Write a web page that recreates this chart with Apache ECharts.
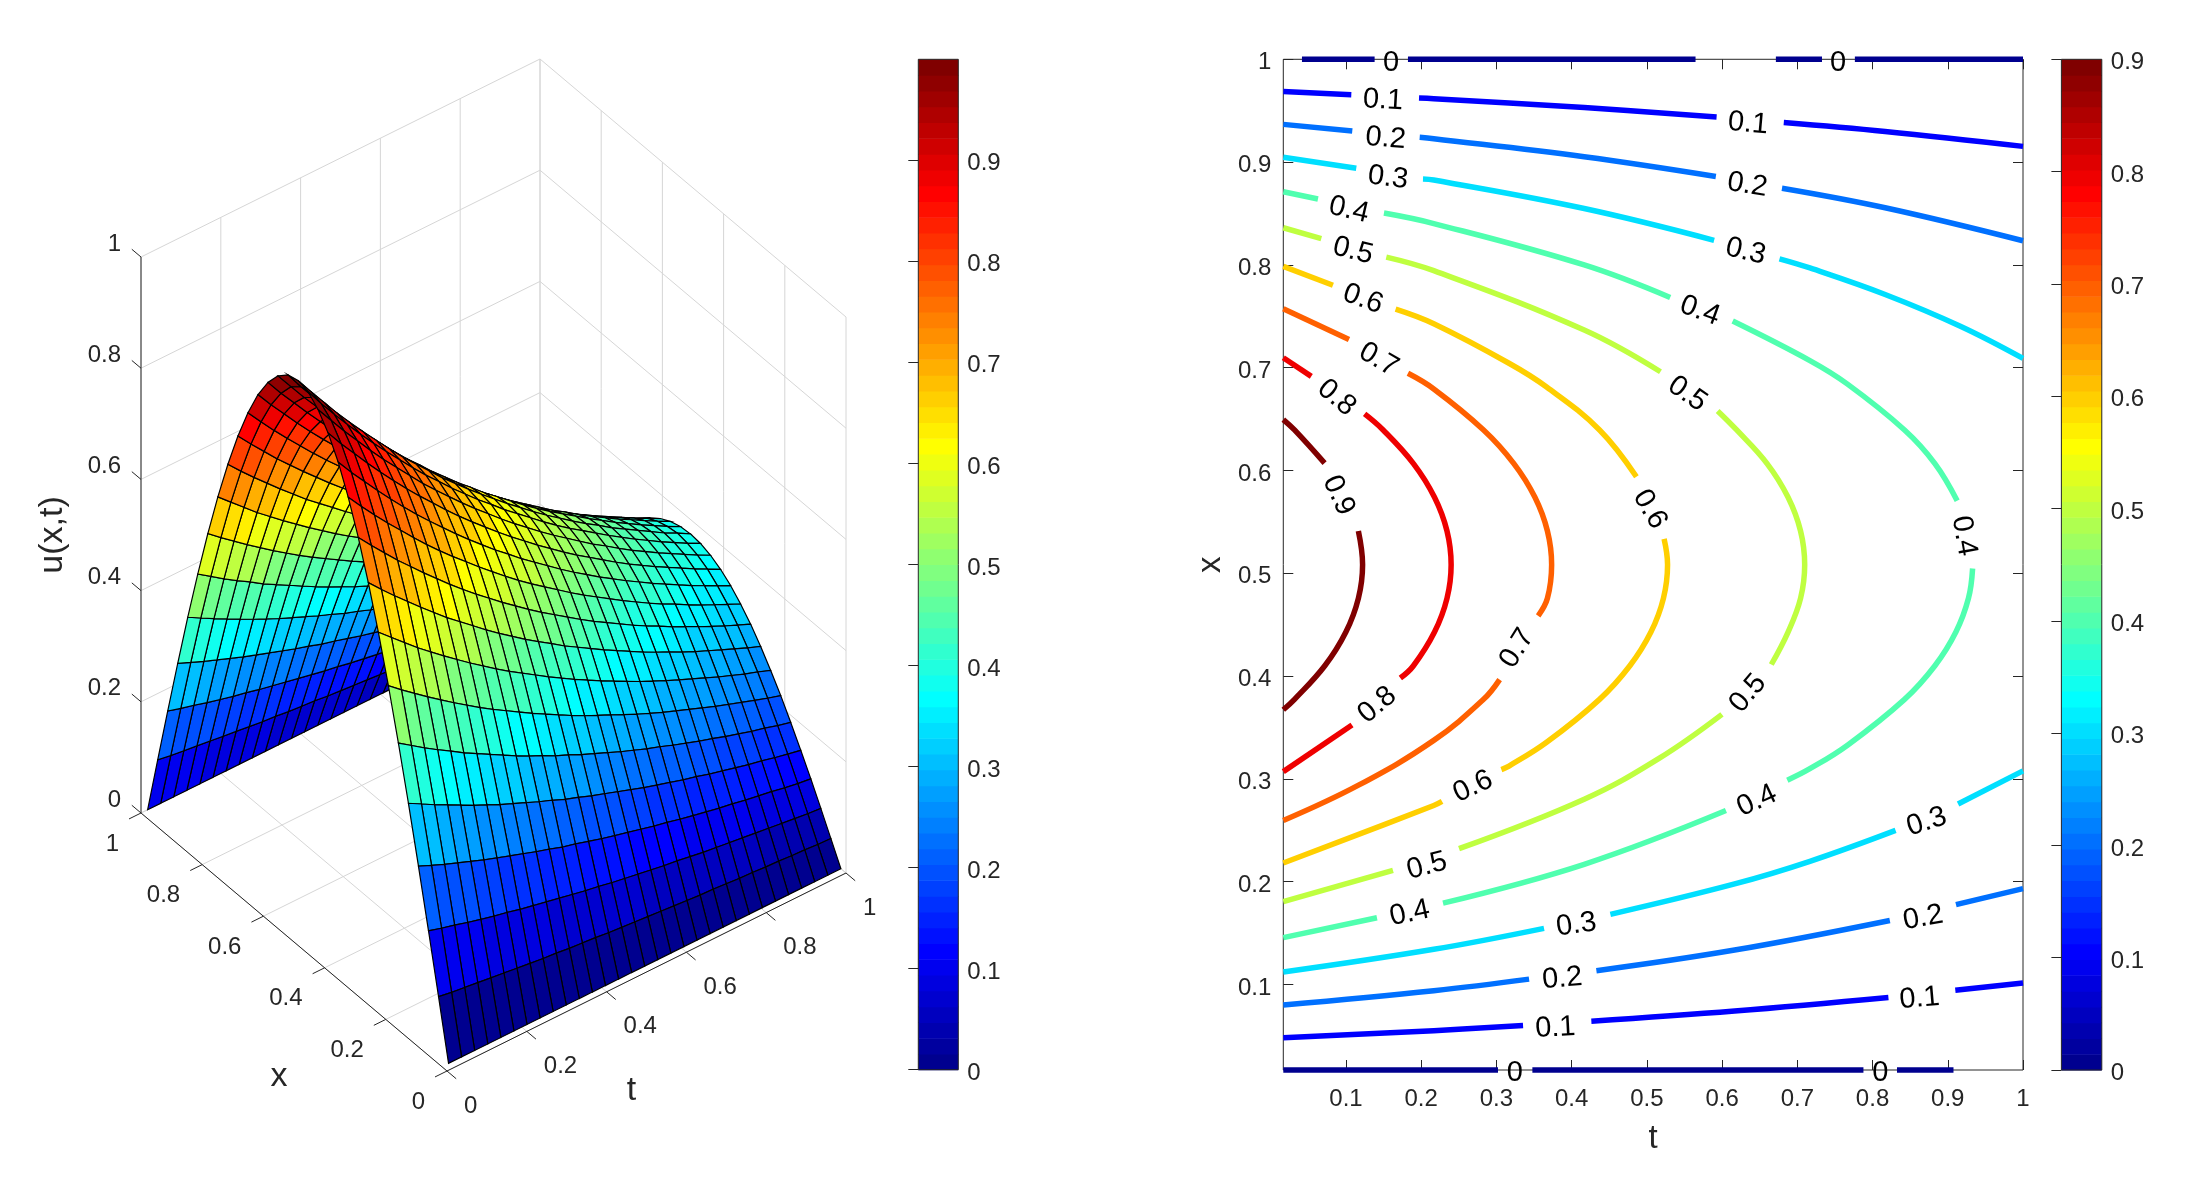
<!DOCTYPE html>
<html>
<head>
<meta charset="utf-8">
<style>html,body{margin:0;padding:0;background:#fff}#c{width:2191px;height:1196px}</style>
<script src="https://cdn.jsdelivr.net/npm/echarts@6/dist/echarts.min.js"></script>
</head>
<body>
<div id="c"></div>
<script>
// ---------- data ----------
const surfaceX = [.0167,.0494,.0822,.115,.1478,.1806,.2133,.2461,.2789,.3117,.3444,.3772,.41,.4428,.4756,.5083,.5411,.5739,.6067,.6394,.6722,.705,.7378,.7706,.8033,.8361,.8689,.9017,.9344,.9672,1];
const surfaceT = [.0167,.0494,.0822,.115,.1478,.1806,.2133,.2461,.2789,.3117,.3444,.3772,.41,.4428,.4756,.5083,.5411,.5739,.6067,.6394,.6722,.705,.7378,.7706,.8033,.8361,.8689,.9017,.9344,.9672,1];
// u(x,t): one row per x, one column per t
const surfaceU = [
[0,0,0,0,0,0,0,0,0,0,0,0,0,0,0,0,0,0,0,0,0,0,0,0,0,0,0,0,0,0,0],
[.105,.101,.098,.095,.092,.089,.086,.083,.080,.078,.075,.073,.071,.068,.066,.064,.062,.060,.058,.056,.054,.053,.051,.049,.048,.046,.045,.043,.042,.040,.039],
[.208,.201,.195,.188,.182,.176,.171,.165,.160,.155,.150,.145,.140,.136,.131,.127,.123,.119,.115,.112,.108,.104,.101,.098,.095,.092,.089,.086,.083,.080,.078],
[.309,.299,.289,.280,.271,.262,.254,.246,.238,.230,.223,.215,.209,.202,.195,.189,.183,.177,.171,.166,.160,.155,.150,.145,.141,.136,.132,.128,.123,.119,.116],
[.407,.394,.381,.369,.357,.345,.334,.323,.313,.303,.293,.284,.274,.266,.257,.249,.241,.233,.225,.218,.211,.204,.198,.191,.185,.179,.173,.168,.162,.157,.152],
[.500,.484,.468,.453,.439,.424,.411,.398,.385,.372,.360,.349,.337,.327,.316,.306,.296,.286,.277,.268,.260,.251,.243,.235,.228,.220,.213,.206,.200,.193,.187],
[.588,.569,.551,.533,.516,.499,.483,.467,.452,.438,.424,.410,.397,.384,.371,.359,.348,.337,.326,.315,.305,.295,.286,.277,.268,.259,.251,.243,.235,.227,.220],
[.669,.648,.627,.606,.587,.568,.550,.532,.515,.498,.482,.467,.452,.437,.423,.409,.396,.383,.371,.359,.347,.336,.325,.315,.305,.295,.285,.276,.267,.259,.250],
[.743,.719,.696,.674,.652,.631,.610,.591,.572,.553,.535,.518,.501,.485,.470,.454,.440,.426,.412,.399,.386,.373,.361,.350,.338,.327,.317,.307,.297,.287,.278],
[.809,.783,.758,.733,.710,.687,.665,.643,.622,.602,.583,.564,.546,.528,.511,.495,.479,.463,.448,.434,.420,.406,.393,.381,.368,.357,.345,.334,.323,.313,.303],
[.866,.838,.811,.785,.760,.735,.711,.688,.666,.645,.624,.604,.584,.565,.547,.530,.513,.496,.480,.465,.450,.435,.421,.407,.394,.382,.369,.357,.346,.335,.324],
[.914,.884,.856,.828,.801,.775,.750,.726,.703,.680,.658,.637,.616,.597,.577,.559,.541,.523,.506,.490,.474,.459,.444,.430,.416,.403,.390,.377,.365,.353,.342],
[.951,.920,.891,.862,.834,.807,.781,.756,.732,.708,.685,.663,.642,.621,.601,.582,.563,.545,.527,.510,.494,.478,.462,.447,.433,.419,.406,.393,.380,.368,.356],
[.978,.947,.916,.887,.858,.830,.804,.778,.752,.728,.705,.682,.660,.639,.618,.598,.579,.560,.542,.525,.508,.491,.476,.460,.445,.431,.417,.404,.391,.378,.366],
[.995,.962,.931,.901,.872,.844,.817,.791,.765,.740,.717,.693,.671,.649,.629,.608,.589,.570,.551,.533,.516,.500,.484,.468,.453,.438,.424,.410,.397,.384,.372],
[.9999,.968,.937,.906,.877,.849,.822,.795,.769,.745,.721,.697,.675,.653,.632,.612,.592,.573,.554,.536,.519,.502,.486,.471,.455,.441,.427,.413,.399,.387,.374],
[.995,.962,.931,.901,.872,.844,.817,.791,.765,.740,.717,.693,.671,.649,.629,.608,.589,.570,.551,.533,.516,.500,.484,.468,.453,.438,.424,.410,.397,.384,.372],
[.978,.947,.916,.887,.858,.830,.804,.778,.752,.728,.705,.682,.660,.639,.618,.598,.579,.560,.542,.525,.508,.491,.476,.460,.445,.431,.417,.404,.391,.378,.366],
[.951,.920,.891,.862,.834,.807,.781,.756,.732,.708,.685,.663,.642,.621,.601,.582,.563,.545,.527,.510,.494,.478,.462,.447,.433,.419,.406,.393,.380,.368,.356],
[.914,.884,.856,.828,.801,.775,.750,.726,.703,.680,.658,.637,.616,.597,.577,.559,.541,.523,.506,.490,.474,.459,.444,.430,.416,.403,.390,.377,.365,.353,.342],
[.866,.838,.811,.785,.760,.735,.711,.688,.666,.645,.624,.604,.584,.565,.547,.530,.513,.496,.480,.465,.450,.435,.421,.407,.394,.382,.369,.357,.346,.335,.324],
[.809,.783,.758,.733,.710,.687,.665,.643,.622,.602,.583,.564,.546,.528,.511,.495,.479,.463,.448,.434,.420,.406,.393,.381,.368,.357,.345,.334,.323,.313,.303],
[.743,.719,.696,.674,.652,.631,.610,.591,.572,.553,.535,.518,.501,.485,.470,.454,.440,.426,.412,.399,.386,.373,.361,.350,.338,.327,.317,.307,.297,.287,.278],
[.669,.648,.627,.606,.587,.568,.550,.532,.515,.498,.482,.467,.452,.437,.423,.409,.396,.383,.371,.359,.347,.336,.325,.315,.305,.295,.285,.276,.267,.259,.250],
[.588,.569,.551,.533,.516,.499,.483,.467,.452,.438,.424,.410,.397,.384,.371,.359,.348,.337,.326,.315,.305,.295,.286,.277,.268,.259,.251,.243,.235,.227,.220],
[.500,.484,.468,.453,.439,.424,.411,.398,.385,.372,.360,.349,.337,.327,.316,.306,.296,.286,.277,.268,.260,.251,.243,.235,.228,.220,.213,.206,.200,.193,.187],
[.407,.394,.381,.369,.357,.345,.334,.323,.313,.303,.293,.284,.274,.266,.257,.249,.241,.233,.225,.218,.211,.204,.198,.191,.185,.179,.173,.168,.162,.157,.152],
[.309,.299,.289,.280,.271,.262,.254,.246,.238,.230,.223,.215,.209,.202,.195,.189,.183,.177,.171,.166,.160,.155,.150,.145,.141,.136,.132,.128,.123,.119,.116],
[.208,.201,.195,.188,.182,.176,.171,.165,.160,.155,.150,.145,.140,.136,.131,.127,.123,.119,.115,.112,.108,.104,.101,.098,.095,.092,.089,.086,.083,.080,.078],
[.105,.101,.098,.095,.092,.089,.086,.083,.080,.078,.075,.073,.071,.068,.066,.064,.062,.060,.058,.056,.054,.053,.051,.049,.048,.046,.045,.043,.042,.040,.039],
[0,0,0,0,0,0,0,0,0,0,0,0,0,0,0,0,0,0,0,0,0,0,0,0,0,0,0,0,0,0,0]
];
const boxTicks = [0,.2,.4,.6,.8,1];
const boxTickText = ['0','0.2','0.4','0.6','0.8','1'];
const axis2dTicks = [.1,.2,.3,.4,.5,.6,.7,.8,.9,1];
const axis2dText = ['0.1','0.2','0.3','0.4','0.5','0.6','0.7','0.8','0.9','1'];
const colorbarTicks = [0,.1,.2,.3,.4,.5,.6,.7,.8,.9];

const contourLevels = [0,.1,.2,.3,.4,.5,.6,.7,.8,.9];
const contour0 = [
 [[.0415,1],[.1381,1]],[[.1824,1],[.5647,1]],[[.6715,1],[.7328,1]],[[.7765,1],[1,1]],
 [[.0167,.0167],[.3021,.0167]],[[.3478,.0167],[.7879,.0167]],[[.8325,.0167],[.9076,.0167]]];
const contour1 = [
 [[.0167,.048],[.2167,.055],[.3354,.0601]],[[.4262,.0641],[.6167,.074],[.8211,.0872]],[[.91,.0943],[1,.1014]],
 [[.0167,.9687],[.1071,.9655]],[[.1971,.9624],[.2167,.9617],[.4167,.9531],[.5927,.9439]],[[.682,.9385],[.8167,.9298],[1,.9153]]];
const contour2 = [
 [[.0167,.08],[.2167,.0939],[.3434,.1051]],[[.4329,.1133],[.6167,.1334],[.823,.1622]],[[.9109,.1776],[1,.1932]],
 [[.0167,.9367],[.1084,.9303]],[[.198,.9241],[.2167,.9228],[.4167,.9052],[.5917,.886]],[[.6796,.8746],[.8167,.8556],[1,.8235]]];
const contour3 = [
 [[.0167,.112],[.2167,.1341],[.3633,.1545]],[[.4515,.1681],[.6167,.1977],[.7167,.2197],[.8306,.2498]],[[.9137,.2755],[1,.3077]],
 [[.0167,.9047],[.1137,.894]],[[.2024,.8836],[.2167,.8826],[.4167,.8548],[.5894,.8239]],[[.6763,.8059],[.7167,.797],[.8167,.7712],[.9167,.7403],[1,.709]]];
const contour4 = [
 [[.0167,.1455],[.1412,.1648]],[[.229,.179],[.4167,.2168],[.6051,.2691]],
 [[.6867,.2986],[.7167,.3098],[.7667,.3327],[.8425,.3773],[.8829,.41],[.9108,.4428],[.9275,.4756],[.933,.5046]],
 [[.0167,.8712],[.0628,.8641]],[[.1505,.8504],[.2167,.8402],[.4167,.7999],[.531,.7682]],
 [[.6141,.7454],[.7167,.7069],[.7667,.684],[.8425,.6394],[.8829,.6067],[.9125,.5706]]];
const contour5 = [
 [[.0167,.1806],[.1625,.211]],[[.2503,.232],[.4167,.2801],[.5167,.3201],[.5998,.3627]],
 [[.6654,.4112],[.6877,.4428],[.7043,.4756],[.7098,.5083],[.7043,.5411],[.6877,.5739],[.6598,.6067],[.6194,.6394],[.5941,.6579]],
 [[.0167,.8361],[.0672,.8256]],[[.1536,.8076],[.2167,.7944],[.4167,.7366],[.5181,.696]]];
const contour6 = [
 [[.0167,.2181],[.2167,.274],[.2277,.278]],
 [[.3066,.309],[.3167,.3124],[.3667,.3355],[.4371,.3773],[.4774,.41],[.5054,.4428],[.522,.4756],[.5275,.5083],[.5229,.5334]],
 [[.4861,.5938],[.4371,.6394],[.3667,.6812],[.3167,.7043],[.2167,.7427],[.166,.7569]],
 [[.0827,.7802],[.0167,.7986]]];
const contour7 = [
 [[.0167,.2594],[.1167,.2938],[.2167,.3374],[.2829,.3773],[.3043,.3965]],
 [[.3555,.4586],[.3678,.4756],[.3734,.5083],[.3678,.5411],[.3512,.5739],[.3232,.6067],[.2829,.6394],[.2167,.6793],[.1824,.6945]],
 [[.104,.7273],[.0167,.7573]]];
const contour8 = [
 [[.0167,.307],[.108,.3523]],
 [[.1723,.398],[.1897,.41],[.2177,.4428],[.2343,.4756],[.2398,.5083],[.2343,.5411],[.2177,.5739],[.1897,.6067],[.1494,.6394],[.1248,.655]],
 [[.0539,.6915],[.0167,.7097]]];
const contour9 = [
 [[.0167,.3672],[.0316,.3773],[.0719,.41],[.0999,.4428],[.1165,.4756],[.1221,.5083],[.1165,.5411]],
 [[.0716,.6071],[.0316,.6394],[.0167,.6495]]];
const contourLines = [contour0,contour1,contour2,contour3,contour4,contour5,contour6,contour7,contour8,contour9];

// contour labels: t, x, rotation in degrees
const labelPlaces = [
 [.1598,.9987,0],[.7542,.9987,0],[.3243,.0154,0],[.8102,.0154,0],
 [.1492,.9621,-3],[.6345,.9394,-5],[.3784,.0595,3],[.8625,.0882,5],
 [.1527,.9249,-5],[.6335,.8796,-9],[.3877,.1076,5],[.8672,.1666,10],
 [.1559,.8867,-7],[.6312,.8149,-13],[.4063,.1599,8],[.872,.26,18],
 [.104,.8553,-13],[.5704,.7573,-20],[.9214,.5382,-80],[.1847,.1711,12],[.6464,.2805,25],
 [.1093,.8155,-14],[.5538,.6764,-35],[.2077,.217,15],[.6345,.3851,50],
 [.1226,.7686,-20],[.5039,.5641,-60],[.2689,.2943,25],
 [.1434,.7097,-30],[.3274,.4288,58],
 [.0876,.6726,-40],[.1417,.3739,40],
 [.0902,.5777,-65]];
const labelTexts = ['0','0','0','0','0.1','0.1','0.1','0.1','0.2','0.2','0.2','0.2','0.3','0.3','0.3','0.3',
 '0.4','0.4','0.4','0.4','0.4','0.5','0.5','0.5','0.5','0.6','0.6','0.6','0.7','0.7','0.8','0.8','0.9'];

// ---------- styling ----------
const FONT = '"Liberation Sans", Arial, sans-serif';
const INK = '#262626', GRID = '#d6d6d6';
const jetBands = 64;
const SURFACE_MAX = .9999, CONTOUR_MAX = .9;
// view of the box, in the hidden pixel plane of the left panel
const ORIGIN = [447,1071], EX = [-306,-258], ET = [399,-198], EZ = -556;

function jetColor(k){ // k = band index 0..63
  const u=(k+1)/jetBands;
  const f=c=>Math.round(255*Math.max(0,Math.min(1,1.5-Math.abs(4*u-c))));
  return 'rgb('+f(3)+','+f(2)+','+f(1)+')';
}
function jetOf(v,max){ return jetColor(Math.min(jetBands-1,Math.floor(v/max*jetBands))); }
function project(api,x,t,z){
  return api.coord([ORIGIN[0]+x*EX[0]+t*ET[0], ORIGIN[1]+x*EX[1]+t*ET[1]+z*EZ]);
}

// ---------- build marks ----------
const cells=[];
for(let i=surfaceX.length-2;i>=0;i--) for(let j=surfaceT.length-2;j>=0;j--){
  cells.push([surfaceX[i],surfaceT[j],surfaceU[i][j],surfaceX[i+1],surfaceT[j],surfaceU[i+1][j],
              surfaceX[i+1],surfaceT[j+1],surfaceU[i+1][j+1],surfaceX[i],surfaceT[j+1],surfaceU[i][j+1]]);
}
const wallLines=[], inkLines=[], boxLabels=[];
boxTicks.forEach(v=>{
  wallLines.push([1,0,v,1,1,v],[1,1,v,0,1,v],      // z rings on both back walls
                 [1,v,0,1,v,1],[v,1,0,v,1,1],      // verticals on both back walls
                 [v,0,0,v,1,0],[0,v,0,1,v,0]);     // floor
  inkLines.push([v,0,0,v,-.03,0],[0,v,0,-.03,v,0],[1,0,v,1.03,0,v]);
});
inkLines.push([0,0,0,1,0,0],[0,0,0,0,1,0],[1,0,0,1,0,1]);
boxTicks.forEach((v,k)=>{
  boxLabels.push({value:[v,0,0],text:boxTickText[k],dx:-22,dy:31,align:'right'});
  boxLabels.push({value:[0,v,0],text:boxTickText[k],dx:17,dy:35,align:'left'});
  boxLabels.push({value:[1,0,v],text:boxTickText[k],dx:-20,dy:-13,align:'right'});
});
function lineRender(color){
  return function(params,api){
    const a=project(api,api.value(0),api.value(1),api.value(2));
    const b=project(api,api.value(3),api.value(4),api.value(5));
    return {type:'line',shape:{x1:a[0],y1:a[1],x2:b[0],y2:b[1]},style:{stroke:color,lineWidth:1,fill:null}};
  };
}
function bandSeries(xi,yi,max){
  const bands=[]; for(let k=0;k<jetBands;k++) bands.push([0,k/jetBands*max,1,(k+1)/jetBands*max,k]);
  return {type:'custom',xAxisIndex:xi,yAxisIndex:yi,z:2,silent:true,animation:false,data:bands,encode:{x:0,y:1},
    renderItem(p,api){
      const a=api.coord([api.value(0),api.value(1)]), b=api.coord([api.value(2),api.value(3)]);
      return {type:'rect',shape:{x:a[0],y:b[1],width:b[0]-a[0],height:a[1]-b[1]+.6},style:{fill:jetColor(api.value(4))}};
    }};
}
function frameSeries(xi,yi,max){
  return {type:'custom',xAxisIndex:xi,yAxisIndex:yi,z:3,silent:true,animation:false,data:[[0,0,1,max]],encode:{x:0,y:1},
    renderItem(p,api){
      const a=api.coord([api.value(0),api.value(1)]), b=api.coord([api.value(2),api.value(3)]);
      return {type:'rect',shape:{x:a[0],y:b[1],width:b[0]-a[0],height:a[1]-b[1]},style:{fill:null,stroke:INK,lineWidth:1}};
    }};
}

const series=[
 {type:'custom',xAxisIndex:0,yAxisIndex:0,z:1,silent:true,animation:false,data:wallLines,encode:{x:0,y:1},renderItem:lineRender(GRID)},
 {type:'custom',xAxisIndex:0,yAxisIndex:0,z:2,silent:true,animation:false,data:inkLines,encode:{x:0,y:1},renderItem:lineRender(INK)},
 {type:'custom',xAxisIndex:0,yAxisIndex:0,z:3,silent:true,animation:false,progressive:0,data:cells,encode:{x:0,y:1},
  renderItem(p,api){
    const pts=[];
    for(let k=0;k<4;k++) pts.push(project(api,api.value(3*k),api.value(3*k+1),api.value(3*k+2)));
    return {type:'polygon',shape:{points:pts},style:{fill:jetOf(api.value(2),SURFACE_MAX),stroke:'#000',lineWidth:1.2}};
  }},
 {type:'custom',xAxisIndex:0,yAxisIndex:0,z:4,silent:true,animation:false,data:boxLabels.map(b=>b.value),encode:{x:0,y:1},
  renderItem(p,api){
    const a=project(api,api.value(0),api.value(1),api.value(2)), b=boxLabels[p.dataIndex];
    return {type:'text',x:a[0]+b.dx,y:a[1]+b.dy,style:{text:b.text,fill:INK,font:'24px '+FONT,textAlign:b.align,textVerticalAlign:'middle'}};
  }},
 bandSeries(1,1,SURFACE_MAX),frameSeries(1,1,SURFACE_MAX),
 bandSeries(4,4,CONTOUR_MAX),frameSeries(4,4,CONTOUR_MAX)
];
contourLines.forEach((segs,k)=>segs.forEach(seg=>series.push({
  type:'line',xAxisIndex:2,yAxisIndex:2,z:3,silent:true,animation:false,clip:false,showSymbol:false,symbol:'none',
  smooth:.4,data:seg,lineStyle:{color:jetOf(contourLevels[k],CONTOUR_MAX),width:5.5,cap:'butt',join:'round'}
})));
series.push({type:'custom',xAxisIndex:2,yAxisIndex:2,z:5,silent:true,animation:false,data:labelPlaces,encode:{x:0,y:1},
  renderItem(p,api){
    const a=api.coord([api.value(0),api.value(1)]);
    return {type:'text',x:a[0],y:a[1]+2,rotation:api.value(2)*Math.PI/180,
      style:{text:labelTexts[p.dataIndex],fill:'#000',font:'29px '+FONT,textAlign:'center',textVerticalAlign:'middle'}};
  }});

const hidden=(min,max,extra)=>Object.assign({type:'value',min,max,show:false,gridIndex:0},extra||{});
const label2d=(margin,extra)=>Object.assign({show:true,color:INK,fontFamily:FONT,fontSize:24,margin,customValues:axis2dTicks,
  formatter:v=>axis2dText[axis2dTicks.findIndex(t=>Math.abs(t-v)<1e-6)]},extra||{});
const tick2d={show:true,inside:true,length:10,lineStyle:{color:INK,width:1},customValues:axis2dTicks};
const barAxis=(grid,max)=>({type:'value',gridIndex:grid,position:'right',min:0,max,z:10,
  axisLine:{show:false},splitLine:{show:false},
  axisTick:{show:true,inside:true,length:10,lineStyle:{color:INK,width:1},customValues:colorbarTicks},
  axisLabel:{show:true,color:INK,fontFamily:FONT,fontSize:24,margin:9,verticalAlign:'top',lineHeight:7,customValues:colorbarTicks,
    formatter:v=>String(Math.round(v*10)/10)}});

const option={
 backgroundColor:'#fff',animation:false,
 grid:[
  {left:0,top:0,width:900,height:1196},
  {left:918.3,top:59.3,width:40,height:1010.4},
  {left:1283.3,top:59.3,width:739.7,height:1010.7,show:true,borderColor:INK,borderWidth:1,backgroundColor:'transparent'},
  {left:2061.4,top:59.3,width:40.4,height:1010.7}
 ],
 xAxis:[
  hidden(0,900),
  hidden(0,1,{gridIndex:1}),
  {type:'value',gridIndex:2,position:'bottom',min:.0167,max:1,splitLine:{show:false},axisLine:{show:false},
   axisTick:tick2d,axisLabel:label2d(17),name:'t',nameLocation:'middle',nameGap:52,
   nameTextStyle:{color:INK,fontFamily:FONT,fontSize:33}},
  {type:'value',gridIndex:2,position:'top',min:.0167,max:1,splitLine:{show:false},axisLine:{show:false},
   axisTick:tick2d,axisLabel:{show:false}},
  hidden(0,1,{gridIndex:3})
 ],
 yAxis:[
  hidden(0,1196,{inverse:true}),
  barAxis(1,SURFACE_MAX),
  {type:'value',gridIndex:2,position:'left',min:.0167,max:1,splitLine:{show:false},axisLine:{show:false},
   axisTick:tick2d,axisLabel:label2d(12,{verticalAlign:'top',lineHeight:7}),name:'x',nameLocation:'middle',nameGap:56,
   nameTextStyle:{color:INK,fontFamily:FONT,fontSize:33}},
  {type:'value',gridIndex:2,position:'right',min:.0167,max:1,splitLine:{show:false},axisLine:{show:false},
   axisTick:tick2d,axisLabel:{show:false}},
  barAxis(3,CONTOUR_MAX)
 ],
 graphic:[
  {type:'text',x:53,y:535,rotation:Math.PI/2,style:{text:'u(x,t)',fill:INK,font:'34px '+FONT,textAlign:'center',textVerticalAlign:'middle'}},
  {type:'text',x:279,y:1077,style:{text:'x',fill:INK,font:'34px '+FONT,textAlign:'center',textVerticalAlign:'middle'}},
  {type:'text',x:631.5,y:1091,style:{text:'t',fill:INK,font:'34px '+FONT,textAlign:'center',textVerticalAlign:'middle'}}
 ],
 series
};
const chart=echarts.init(document.getElementById('c'),null,{renderer:'canvas',width:2191,height:1196});
chart.setOption(option);
</script>
</body>
</html>
